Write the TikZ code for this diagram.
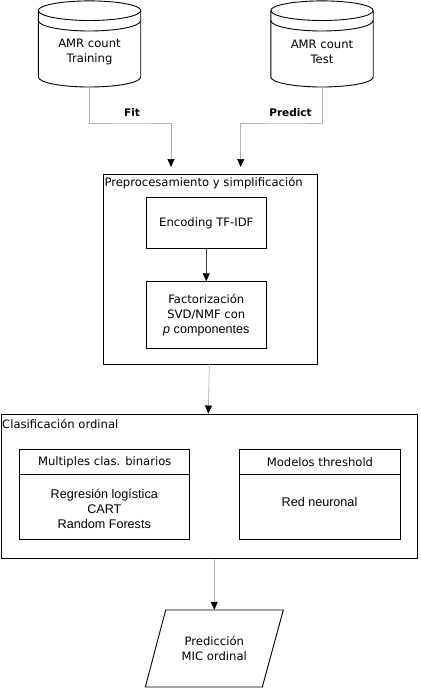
\documentclass[tikz,border=0pt]{standalone}
\usepackage{fontspec}
\setmainfont{DejaVu Sans}
\newfontfamily\helv{Liberation Sans}
\usetikzlibrary{arrows.meta,calc}
\tikzset{
  box/.style={draw=black,line width=0.9pt,inner sep=0pt,align=center,font=\fontsize{11.6}{14.7}\selectfont},
  lab/.style={inner sep=0pt,align=center,font=\fontsize{11.6}{14.5}\selectfont},
  hlab/.style={inner sep=0pt,align=center,font=\helv\fontsize{12.6}{15}\selectfont},
  boldlab/.style={inner sep=0pt,font=\bfseries\fontsize{10.5}{12}\selectfont},
  conn/.style={draw=black!30,line width=0.7pt,-{Triangle[length=8pt,width=7pt,color=black]}},
  darkconn/.style={draw=black!75,line width=0.7pt,-{Triangle[length=8pt,width=7pt,color=black]}},
  cyl/.style={draw=black,line width=0.9pt},
}
\newcommand{\cylshape}[3]{% name, centre x, label lines
  \draw[cyl] (#2-51.2,10.5) -- (#2-51.2,77) arc[start angle=180,end angle=0,x radius=51.2,y radius=10]
     -- (#2+51.2,10.5) arc[start angle=360,end angle=180,x radius=51.2,y radius=9.6];
  \draw[cyl] (#2-51.2,10.5) arc[start angle=180,end angle=0,x radius=51.2,y radius=10];
  \draw[cyl] (#2-51.2,20.5) arc[start angle=180,end angle=0,x radius=51.2,y radius=10.5];
  \node[lab,minimum width=102.4pt,minimum height=87pt] (#1) at (#2,43.5) {};
  \node[lab] (#1t) at (#2,52) {#3};
}
\begin{document}
\begin{tikzpicture}[x=1pt,y=-1pt]
\useasboundingbox (0,0) rectangle (420,690);
\cylshape{train}{89.5}{AMR count\\Training}
\cylshape{test}{322}{AMR count\\Test}
% containers
\node[box,anchor=north west,minimum width=214pt,minimum height=190pt] (prep) at (102.7,174) {};
\node[lab,anchor=west] (preplab) at (104.3,183) {Preprocesamiento y simplificación};
\node[box,minimum width=119.3pt,minimum height=51pt] (enc) at (206.3,222.8) {Encoding TF-IDF};
\node[box,minimum width=119.3pt,minimum height=66.6pt] (fact) at (206.3,315) {Factorización\\SVD/NMF con\\{\helv\fontsize{12.6}{14.7}\selectfont\textit{p} componentes}};
\node[box,anchor=north west,minimum width=416.2pt,minimum height=144pt] (clas) at (0.5,414.3) {};
\node[lab,anchor=west] (claslab) at (2,424) {Clasificación ordinal};
\node[box,anchor=north west,minimum width=170pt,minimum height=24.7pt] (mh) at (19.3,449.3) {Multiples clas. binarios};
\node[box,anchor=north west,minimum width=170pt,minimum height=64.7pt] (mb) at (19.3,474) {};
\node[hlab] (mbt) at (104.3,508.7) {Regresión logística\\CART\\Random Forests};
\node[box,anchor=north west,minimum width=160.4pt,minimum height=24.7pt] (th) at (239.3,449.3) {Modelos threshold};
\node[box,anchor=north west,minimum width=160.4pt,minimum height=64.7pt] (tb) at (239.3,474) {};
\node[hlab] (tbt) at (319.5,502) {Red neuronal};
\draw[cyl] (165.7,610) -- (283.3,610) -- (262.3,687) -- (145.3,687) -- cycle;
\node[lab,minimum width=117pt,minimum height=77pt] (pred) at (214.3,648.5) {Predicción\\MIC ordinal};
% connector ends
\coordinate (fitend) at (171,167);
\coordinate (predend) at (240.7,167);
\coordinate (clasin) at (208.3,413.5);
\coordinate (prepout) at (209.3,364);
\draw[conn] (train.south) |- (132,123) -| (fitend);
\draw[conn] (test.south) |- (290,123) -| (predend);
\draw[darkconn] (enc.south) -- (fact.north);
\draw[conn] (prepout) -- (clasin);
\draw[conn] (clas.south -| pred.north) -- (pred.north);
\node[boldlab] (fit) at (132,113) {Fit};
\node[boldlab] (pr) at (290.5,113) {Predict};
\end{tikzpicture}
\end{document}
